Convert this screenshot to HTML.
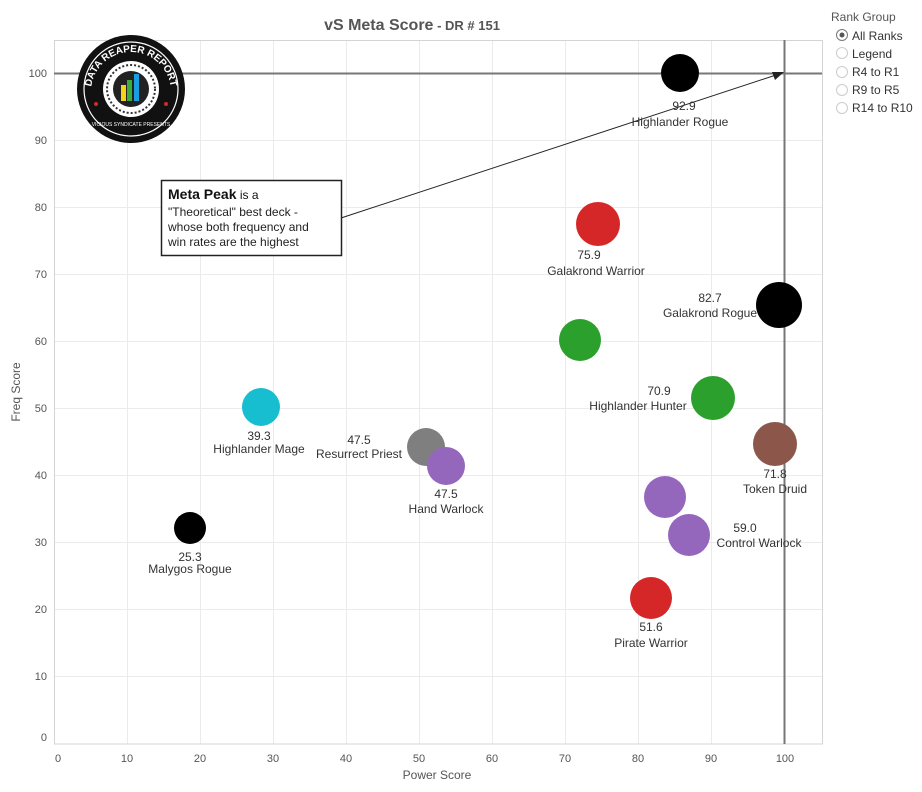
<!DOCTYPE html><html><head><style>body{margin:0;background:#fff}svg text{font-family:"Liberation Sans",Arial,sans-serif}</style></head><body>
<svg width="922" height="787" xmlns="http://www.w3.org/2000/svg">
<defs><path id="arcTop" d="M 91,92 A 40,40 0 0 1 171,92"/></defs>
<g stroke="#ebebeb" stroke-width="1">
<line x1="127.5" y1="40" x2="127.5" y2="744"/><line x1="200.5" y1="40" x2="200.5" y2="744"/><line x1="273.5" y1="40" x2="273.5" y2="744"/><line x1="346.5" y1="40" x2="346.5" y2="744"/><line x1="419.5" y1="40" x2="419.5" y2="744"/><line x1="492.5" y1="40" x2="492.5" y2="744"/><line x1="565.5" y1="40" x2="565.5" y2="744"/><line x1="638.5" y1="40" x2="638.5" y2="744"/><line x1="711.5" y1="40" x2="711.5" y2="744"/>
<line x1="54" y1="140.5" x2="822" y2="140.5"/><line x1="54" y1="207.5" x2="822" y2="207.5"/><line x1="54" y1="274.5" x2="822" y2="274.5"/><line x1="54" y1="341.5" x2="822" y2="341.5"/><line x1="54" y1="408.5" x2="822" y2="408.5"/><line x1="54" y1="475.5" x2="822" y2="475.5"/><line x1="54" y1="542.5" x2="822" y2="542.5"/><line x1="54" y1="609.5" x2="822" y2="609.5"/><line x1="54" y1="676.5" x2="822" y2="676.5"/>
</g>
<rect x="54.5" y="40.5" width="768" height="703.5" fill="none" stroke="#d4d4d4"/>
<line x1="54" y1="73.5" x2="822" y2="73.5" stroke="#777" stroke-width="2"/>
<line x1="784.5" y1="40" x2="784.5" y2="744" stroke="#777" stroke-width="2"/>
<g font-size="11" fill="#555" text-anchor="end">
<text x="47" y="77">100</text><text x="47" y="144">90</text><text x="47" y="211">80</text><text x="47" y="278">70</text><text x="47" y="345">60</text><text x="47" y="412">50</text><text x="47" y="479">40</text><text x="47" y="546">30</text><text x="47" y="613">20</text><text x="47" y="680">10</text><text x="47" y="741">0</text></g>
<g font-size="11" fill="#555" text-anchor="middle">
<text x="58" y="762">0</text><text x="127" y="762">10</text><text x="200" y="762">20</text><text x="273" y="762">30</text><text x="346" y="762">40</text><text x="419" y="762">50</text><text x="492" y="762">60</text><text x="565" y="762">70</text><text x="638" y="762">80</text><text x="711" y="762">90</text><text x="785" y="762">100</text></g>
<text x="437" y="779" font-size="12" fill="#555" text-anchor="middle">Power Score</text>
<text transform="translate(20,392) rotate(-90)" font-size="12" fill="#555" text-anchor="middle">Freq Score</text>
<text x="412" y="30" font-size="16" fill="#555" text-anchor="middle" font-weight="bold">vS Meta Score<tspan font-size="13"> - DR # 151</tspan></text>
<g>
<circle cx="131" cy="89" r="54" fill="#111"/>
<circle cx="131" cy="89" r="47" fill="none" stroke="#fff" stroke-width="1.2"/>
<circle cx="131" cy="89" r="28" fill="#fff"/>
<circle cx="131" cy="89" r="24" fill="none" stroke="#333" stroke-width="2" stroke-dasharray="2 2"/>
<circle cx="131" cy="89" r="18" fill="#222"/>
<rect x="121" y="85" width="5" height="16" fill="#f5d31b"/><rect x="127" y="80" width="5" height="21" fill="#3aad3a"/><rect x="134" y="74" width="5" height="27" fill="#1a9ee0"/>
<text font-size="10" font-weight="bold" fill="#fff" text-anchor="middle"><textPath href="#arcTop" startOffset="50%">DATA REAPER REPORT</textPath></text>
<text x="131" y="126" font-size="5" fill="#fff" text-anchor="middle">VICIOUS SYNDICATE PRESENTS</text>
<circle cx="96" cy="104" r="2" fill="#d62728"/><circle cx="166" cy="104" r="2" fill="#d62728"/>
</g>
<line x1="341" y1="218" x2="776" y2="75" stroke="#222" stroke-width="1"/>
<polygon points="784,72 772,72 775,80" fill="#222"/>
<rect x="161.5" y="180.5" width="180" height="75" fill="#fff" stroke="#222" stroke-width="1.5"/>
<text x="168" y="199" font-size="14" fill="#111"><tspan font-weight="bold">Meta Peak</tspan><tspan font-size="12"> is a</tspan></text>
<g font-size="12" fill="#222"><text x="168" y="216">"Theoretical" best deck -</text><text x="168" y="231">whose both frequency and</text><text x="168" y="246">win rates are the highest</text></g>
<circle cx="680" cy="73" r="19" fill="#000"/>
<circle cx="598" cy="224" r="22" fill="#d62728"/>
<circle cx="779" cy="305" r="23" fill="#000"/>
<circle cx="580" cy="340" r="21" fill="#2ca02c"/>
<circle cx="713" cy="398" r="22" fill="#2ca02c"/>
<circle cx="775" cy="444" r="22" fill="#8c564b"/>
<circle cx="261" cy="407" r="19" fill="#17becf"/>
<circle cx="426" cy="447" r="19" fill="#7f7f7f"/>
<circle cx="446" cy="466" r="19" fill="#9467bd"/>
<circle cx="665" cy="497" r="21" fill="#9467bd"/>
<circle cx="689" cy="535" r="21" fill="#9467bd"/>
<circle cx="651" cy="598" r="21" fill="#d62728"/>
<circle cx="190" cy="528" r="16" fill="#000"/>
<g font-size="12" fill="#333" text-anchor="middle">
<text x="684" y="110">92.9</text><text x="680" y="126">Highlander Rogue</text>
<text x="589" y="259">75.9</text><text x="596" y="275">Galakrond Warrior</text>
<text x="775" y="478">71.8</text><text x="775" y="493">Token Druid</text>
<text x="259" y="440">39.3</text><text x="259" y="453">Highlander Mage</text>
<text x="446" y="498">47.5</text><text x="446" y="513">Hand Warlock</text>
<text x="651" y="631">51.6</text><text x="651" y="647">Pirate Warrior</text>
<text x="190" y="561">25.3</text><text x="190" y="573">Malygos Rogue</text>
<text x="745" y="532">59.0</text><text x="759" y="547">Control Warlock</text>
<text x="710" y="302">82.7</text><text x="710" y="317">Galakrond Rogue</text>
<text x="659" y="395">70.9</text><text x="638" y="410">Highlander Hunter</text>
<text x="359" y="444">47.5</text><text x="359" y="458">Resurrect Priest</text>
</g>
<text x="831" y="21" font-size="12" fill="#555">Rank Group</text>
<g font-size="12" fill="#333">
<circle cx="842" cy="35" r="5.5" fill="#fff" stroke="#777"/><circle cx="842" cy="35" r="2.5" fill="#555"/><text x="852" y="40">All Ranks</text>
<circle cx="842" cy="53" r="5.5" fill="#fff" stroke="#ccc"/><text x="852" y="58">Legend</text>
<circle cx="842" cy="72" r="5.5" fill="#fff" stroke="#ccc"/><text x="852" y="76">R4 to R1</text>
<circle cx="842" cy="90" r="5.5" fill="#fff" stroke="#ccc"/><text x="852" y="94">R9 to R5</text>
<circle cx="842" cy="108" r="5.5" fill="#fff" stroke="#ccc"/><text x="852" y="112">R14 to R10</text>
</g>
</svg></body></html>
